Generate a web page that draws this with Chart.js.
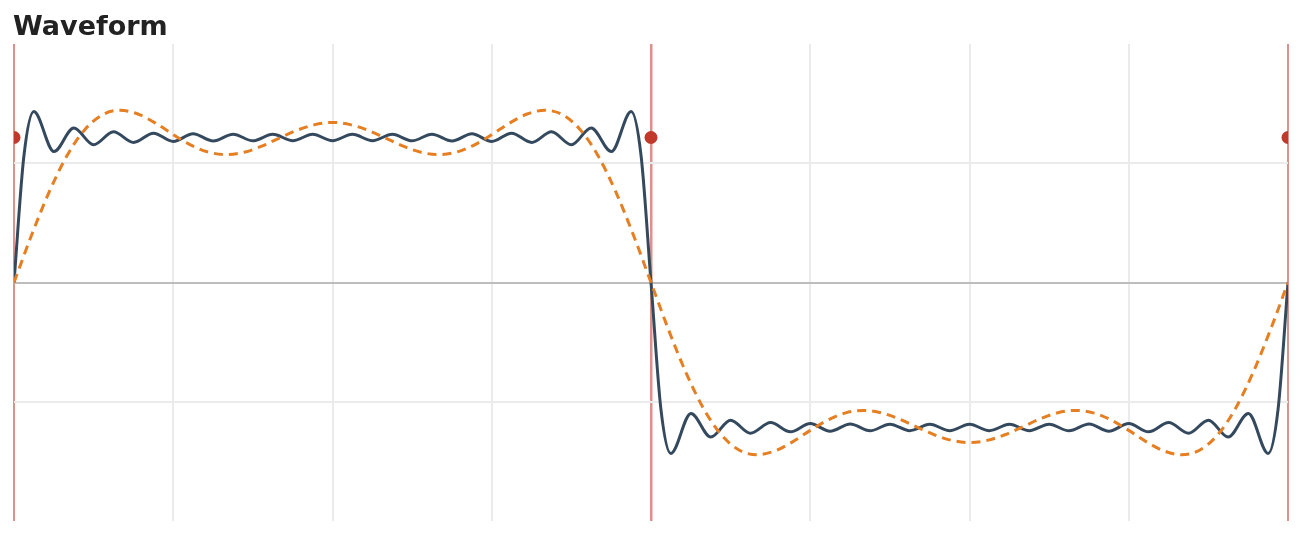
<!DOCTYPE html>
<html>
<head>
<meta charset="utf-8">
<script src="https://cdn.jsdelivr.net/npm/chart.js@4"></script>
<style>
  body { margin: 0; background: #fff; }
  #wrap { position: relative; width: 1302px; height: 536px; }
  #title { position: absolute; left: 13px; top: 12px; font: bold 27px "DejaVu Sans", sans-serif; line-height: 1; color: #222; }
</style>
</head>
<body>
<div id="wrap">
  <div id="title">Waveform</div>
  <canvas id="waveChart"></canvas>
</div>
<script>
// phase in degrees, one full period
const fineX = [0, 2.8, 5.6, 11.3, 16.9, 22.5, 28.1, 33.8, 39.4, 45, 50.6, 56.3, 61.9, 67.5, 73.1, 78.8, 84.4, 90,
  95.6, 101.3, 106.9, 112.5, 118.1, 123.8, 129.4, 135, 140.6, 146.3, 151.9, 157.5, 163.1, 168.8, 174.4, 177.2, 180,
  182.8, 185.6, 191.3, 196.9, 202.5, 208.1, 213.8, 219.4, 225, 230.6, 236.3, 241.9, 247.5, 253.1, 258.8, 264.4, 270,
  275.6, 281.3, 286.9, 292.5, 298.1, 303.8, 309.4, 315, 320.6, 326.3, 331.9, 337.5, 343.1, 348.8, 354.4, 357.2, 360];
const fineY = [0, 0.873, 1.179, 0.903, 1.066, 0.950, 1.040, 0.966, 1.030, 0.973, 1.026, 0.976, 1.023, 0.977, 1.022, 0.978, 1.022, 0.978,
  1.022, 0.978, 1.022, 0.977, 1.023, 0.976, 1.026, 0.973, 1.030, 0.966, 1.040, 0.950, 1.066, 0.903, 1.179, 0.873, 0,
  -0.873, -1.179, -0.903, -1.066, -0.950, -1.040, -0.966, -1.030, -0.973, -1.026, -0.976, -1.023, -0.977, -1.022, -0.978, -1.022, -0.978,
  -1.022, -0.978, -1.022, -0.977, -1.023, -0.976, -1.026, -0.973, -1.030, -0.966, -1.040, -0.950, -1.066, -0.903, -1.179, -0.873, 0];

const coarseX = [0, 5, 10, 15, 20, 25, 30, 35, 40, 45, 50, 55, 60, 65, 70, 75, 80, 85, 90,
  95, 100, 105, 110, 115, 120, 125, 130, 135, 140, 145, 150, 155, 160, 165, 170, 175, 180,
  185, 190, 195, 200, 205, 210, 215, 220, 225, 230, 235, 240, 245, 250, 255, 260, 265, 270,
  275, 280, 285, 290, 295, 300, 305, 310, 315, 320, 325, 330, 335, 340, 345, 350, 355, 360];
const coarseY = [0, 0.329, 0.628, 0.876, 1.054, 1.157, 1.188, 1.162, 1.099, 1.020, 0.948, 0.899, 0.882, 0.898, 0.940, 0.996, 1.050, 1.089, 1.104,
  1.089, 1.050, 0.996, 0.940, 0.898, 0.882, 0.899, 0.948, 1.020, 1.099, 1.162, 1.188, 1.157, 1.054, 0.876, 0.628, 0.329, 0,
  -0.329, -0.628, -0.876, -1.054, -1.157, -1.188, -1.162, -1.099, -1.020, -0.948, -0.899, -0.882, -0.898, -0.940, -0.996, -1.050, -1.089, -1.104,
  -1.089, -1.050, -0.996, -0.940, -0.898, -0.882, -0.899, -0.948, -1.020, -1.099, -1.162, -1.188, -1.157, -1.054, -0.876, -0.628, -0.329, 0];

const sampleX = [0, 180, 360];
const sampleY = [1, 1, 1];

const yTicks = [-0.824, 0, 0.824];
const periodMarks = [0, 180, 360];

const toPoints = (xs, ys) => xs.map((x, i) => ({ x, y: ys[i] }));

new Chart(document.getElementById('waveChart').getContext('2d'), {
    type: 'line',
    data: {
        datasets: [
            {
                label: 'samples',
                data: toPoints(sampleX, sampleY),
                showLine: false,
                pointRadius: 6.5,
                pointBackgroundColor: '#c0392b',
                pointBorderWidth: 0,
                clip: 0
            },
            {
                label: '3 harmonics',
                data: toPoints(coarseX, coarseY),
                borderColor: '#e67e22',
                borderWidth: 3,
                borderDash: [9, 6],
                pointRadius: 0,
                cubicInterpolationMode: 'monotone',
                clip: 0
            },
            {
                label: '16 harmonics',
                data: toPoints(fineX, fineY),
                borderColor: '#34495e',
                borderWidth: 3,
                pointRadius: 0,
                cubicInterpolationMode: 'monotone',
                clip: 0
            }
        ]
    },
    options: {
        responsive: true,
        maintainAspectRatio: false,
        animation: false,
        layout: { padding: { left: 14, right: 14, top: 44, bottom: 15 } },
        plugins: { legend: { display: false }, tooltip: { enabled: false } },
        scales: {
            x: {
                type: 'linear',
                min: 0,
                max: 360,
                ticks: { display: false, stepSize: 45 },
                border: { display: false },
                grid: {
                    drawTicks: false,
                    color: ctx => periodMarks.includes(ctx.tick.value) ? 'rgba(192,57,43,0.55)' : '#ebebeb',
                    lineWidth: ctx => ctx.tick.value === 180 ? 2.5 : 2
                }
            },
            y: {
                min: -1.645,
                max: 1.645,
                afterBuildTicks: scale => { scale.ticks = yTicks.map(v => ({ value: v })); },
                ticks: { display: false },
                border: { display: false },
                grid: {
                    drawTicks: false,
                    color: ctx => ctx.tick.value === 0 ? '#bdbdbd' : '#ebebeb',
                    lineWidth: 2
                }
            }
        }
    }
});
</script>
</body>
</html>
